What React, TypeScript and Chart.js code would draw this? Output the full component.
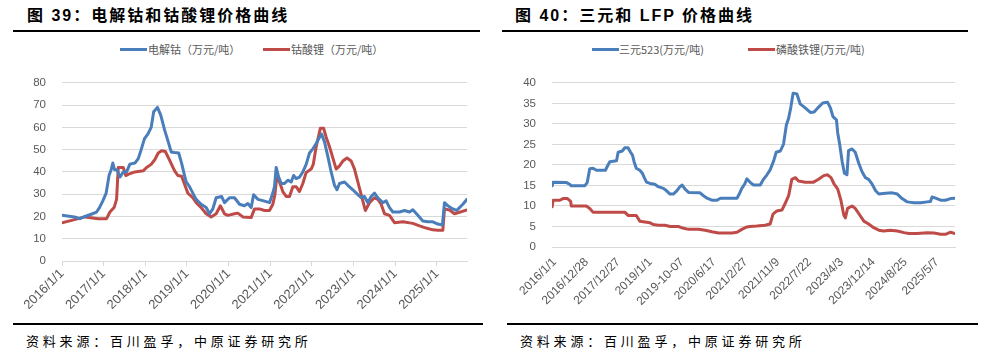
import React, { useEffect, useRef } from "react";
import { Chart, registerables } from "chart.js";

Chart.register(...registerables);

// ---------- Data: 图39 电解钴 / 钴酸锂 (万元/吨), x = fractional year ----------
const leftTickYears = [2016, 2017, 2018, 2019, 2020, 2021, 2022, 2023, 2024, 2025];
const leftXMin = 2016.0;
const leftXMax = 2025.72;

const cobaltSeries: [number, number][] = [
  [2016.0, 20.5], [2016.3, 19.8], [2016.43, 19], [2016.55, 20], [2016.7, 21], [2016.83, 22], [2016.9, 24],
  [2016.98, 27], [2017.06, 30.5], [2017.13, 38.5], [2017.18, 41], [2017.22, 44], [2017.26, 41], [2017.32, 41],
  [2017.39, 37.7], [2017.47, 40], [2017.55, 40], [2017.63, 43.5], [2017.75, 44], [2017.83, 46], [2017.9, 50],
  [2017.98, 55], [2018.06, 57], [2018.14, 60], [2018.2, 67], [2018.29, 69], [2018.37, 65.5], [2018.46, 59],
  [2018.55, 53.5], [2018.62, 49], [2018.7, 48.7], [2018.8, 48.5], [2018.87, 44], [2018.94, 38.5], [2018.98, 35.5],
  [2019.06, 33.4], [2019.14, 30.5], [2019.22, 27.7], [2019.34, 25.5], [2019.46, 24], [2019.54, 21.2], [2019.62, 23.4],
  [2019.7, 28.4], [2019.83, 29], [2019.9, 26.2], [2020.02, 28.4], [2020.14, 28.4], [2020.26, 25.5], [2020.38, 24.8],
  [2020.46, 25.8], [2020.54, 24], [2020.6, 29.8], [2020.7, 27.7], [2020.84, 27], [2020.98, 26.2], [2021.06, 30.5],
  [2021.1, 33.4], [2021.14, 42], [2021.2, 37.7], [2021.26, 34.8], [2021.34, 34.8], [2021.42, 36.3], [2021.5, 35.5],
  [2021.56, 38.4], [2021.62, 37], [2021.7, 37.7], [2021.78, 40], [2021.86, 43.4], [2021.94, 48.5], [2022.03, 50.6],
  [2022.1, 52.8], [2022.18, 55.6], [2022.23, 57], [2022.3, 53.5], [2022.38, 47], [2022.46, 40], [2022.54, 34],
  [2022.6, 32], [2022.66, 34.8], [2022.78, 35.5], [2022.86, 34], [2022.98, 32], [2023.1, 29.8], [2023.18, 28.4],
  [2023.26, 29], [2023.34, 26.2], [2023.42, 29], [2023.5, 30.5], [2023.58, 28.4], [2023.7, 26.2], [2023.78, 27],
  [2023.86, 24], [2023.94, 22], [2024.1, 22], [2024.22, 22.7], [2024.34, 22], [2024.42, 23], [2024.54, 20.5],
  [2024.66, 18], [2024.78, 17.6], [2024.9, 17.6], [2025.02, 16.6], [2025.13, 16.2], [2025.18, 26.2], [2025.26, 24.8],
  [2025.38, 23.4], [2025.47, 22.7], [2025.54, 24], [2025.62, 25.5], [2025.72, 27.7],
];

const licoSeries: [number, number][] = [
  [2016.0, 17.2], [2016.3, 18.6], [2016.55, 19.8], [2016.87, 19], [2017.07, 19], [2017.15, 22], [2017.25, 24],
  [2017.31, 27.7], [2017.35, 42], [2017.47, 42], [2017.53, 38.4], [2017.6, 39], [2017.75, 40], [2017.95, 40.5],
  [2018.03, 42], [2018.14, 43.4], [2018.23, 45.6], [2018.31, 48.5], [2018.39, 49.5], [2018.48, 49.2], [2018.59, 45],
  [2018.7, 40.6], [2018.78, 38.4], [2018.87, 38.1], [2018.95, 34], [2019.02, 30.5], [2019.14, 28.4], [2019.22, 26.2],
  [2019.34, 24], [2019.46, 21.2], [2019.58, 19.8], [2019.7, 21.2], [2019.8, 24.8], [2019.9, 21.2], [2019.98, 20.5],
  [2020.14, 21.2], [2020.22, 21.5], [2020.34, 19.8], [2020.54, 19.5], [2020.62, 23.4], [2020.74, 23.4], [2020.86, 22.7],
  [2020.98, 22.7], [2021.06, 25.5], [2021.11, 29.8], [2021.16, 38.7], [2021.22, 35.5], [2021.3, 31.2], [2021.38, 29],
  [2021.46, 29], [2021.54, 33.4], [2021.62, 33.4], [2021.7, 31.2], [2021.78, 34.8], [2021.86, 39.8], [2021.98, 41.3],
  [2022.03, 43.4], [2022.1, 51.3], [2022.2, 59.6], [2022.28, 59.6], [2022.34, 55.6], [2022.42, 51.3], [2022.5, 46.3],
  [2022.58, 41.3], [2022.66, 42.7], [2022.74, 44.9], [2022.84, 46.3], [2022.94, 44.9], [2023.02, 41.3], [2023.1, 35.5],
  [2023.18, 29.8], [2023.28, 22.7], [2023.38, 26.2], [2023.5, 28.4], [2023.58, 27.7], [2023.66, 25.5], [2023.74, 21.2],
  [2023.86, 20.5], [2023.98, 17.2], [2024.18, 17.6], [2024.42, 16.9], [2024.58, 15.8], [2024.74, 14.8], [2024.9, 14],
  [2025.02, 13.8], [2025.14, 13.8], [2025.18, 23.4], [2025.3, 22.9], [2025.42, 21.2], [2025.54, 21.9], [2025.72, 22.9],
];

// ---------- Data: 图40 三元523 / 磷酸铁锂 (万元/吨), x = position in label steps ----------
const rightTickLabels = [
  "2016/1/1", "2016/12/28", "2017/12/27", "2019/1/1", "2019-10-07", "2020/6/17", "2021/2/27",
  "2021/11/9", "2022/7/22", "2023/4/3", "2023/12/14", "2024/8/25", "2025/5/7",
];
const rightXMin = -0.085;
const rightXMax = 12.56;

const ncmSeries: [number, number][] = [
  [-0.08, 14.9], [-0.05, 15.8], [0.37, 15.7], [0.47, 15.3], [0.52, 14.9], [0.94, 14.9], [1.02, 15.7], [1.1, 19.1],
  [1.2, 19.2], [1.31, 18.7], [1.59, 18.7], [1.66, 19.8], [1.73, 20.8], [1.94, 21], [1.99, 23.1], [2.12, 23.4],
  [2.2, 24.2], [2.3, 24.2], [2.38, 23.1], [2.44, 22.4], [2.49, 20.8], [2.56, 19.2], [2.67, 18.7], [2.75, 18],
  [2.81, 16.9], [2.88, 15.8], [2.99, 15.5], [3.14, 15.3], [3.25, 14.7], [3.41, 14.3], [3.51, 13.7], [3.62, 12.9],
  [3.72, 12.9], [3.83, 13.7], [3.93, 14.7], [4.0, 15.1], [4.09, 14.1], [4.2, 13.3], [4.56, 13.2], [4.67, 12.5],
  [4.78, 11.9], [4.93, 11.4], [5.09, 11.4], [5.2, 11.9], [5.72, 11.9], [5.79, 12.9], [5.87, 14.3], [5.96, 15.3],
  [6.03, 16.6], [6.14, 15.7], [6.24, 15.1], [6.45, 15.1], [6.55, 16.5], [6.66, 17.6], [6.76, 18.8], [6.87, 21],
  [6.95, 23.1], [7.08, 23.4], [7.18, 25.1], [7.27, 29.8], [7.34, 31.4], [7.41, 34.1], [7.48, 37.5], [7.6, 37.3],
  [7.7, 34.9], [7.86, 33.9], [8.02, 32.8], [8.14, 32.9], [8.28, 34.1], [8.41, 35.1], [8.56, 35.3], [8.65, 33.9],
  [8.73, 31.8], [8.84, 31], [8.88, 27.8], [8.94, 25.1], [9.02, 20.8], [9.09, 18], [9.17, 17.6], [9.22, 23.5],
  [9.33, 23.9], [9.43, 23.1], [9.54, 20.4], [9.64, 18.4], [9.75, 16.9], [9.85, 16.5], [9.96, 15.3], [10.07, 13.7],
  [10.17, 12.9], [10.38, 13.1], [10.59, 13.2], [10.75, 12.9], [10.9, 11.8], [11.06, 11], [11.27, 10.8], [11.48, 10.8],
  [11.69, 11], [11.79, 11.1], [11.84, 12.2], [11.95, 11.9], [12.11, 11.4], [12.26, 11.4], [12.42, 11.8], [12.56, 11.9],
];

const lfpSeries: [number, number][] = [
  [-0.08, 9.8], [-0.05, 11.4], [0.16, 11.4], [0.26, 11.8], [0.4, 11.8], [0.5, 11.1], [0.52, 10], [0.99, 10],
  [1.1, 9.4], [1.2, 8.5], [2.2, 8.5], [2.3, 7.7], [2.56, 7.7], [2.67, 6.3], [2.83, 6.1], [2.99, 5.9], [3.09, 5.5],
  [3.25, 5.3], [3.46, 5.3], [3.62, 5], [3.88, 5], [3.98, 4.7], [4.2, 4.3], [4.51, 4.3], [4.72, 4.1], [4.93, 3.7],
  [5.14, 3.4], [5.56, 3.4], [5.72, 3.6], [5.87, 4.3], [6.03, 4.9], [6.13, 5], [6.34, 5.1], [6.6, 5.3], [6.76, 5.6],
  [6.85, 8], [6.97, 8.8], [7.13, 9], [7.23, 10.6], [7.34, 12.5], [7.44, 16.5], [7.55, 16.9], [7.65, 16.1],
  [7.86, 15.8], [8.12, 15.8], [8.28, 16.5], [8.44, 17.4], [8.56, 17.6], [8.67, 16.9], [8.77, 15.3], [8.88, 14.1],
  [8.98, 11.4], [9.07, 7.8], [9.12, 7.1], [9.19, 9.4], [9.33, 10], [9.43, 9.4], [9.57, 7.8], [9.7, 6.3],
  [9.85, 5.6], [10.01, 4.7], [10.17, 4.1], [10.32, 3.9], [10.53, 4.1], [10.75, 3.9], [10.96, 3.5], [11.11, 3.3],
  [11.37, 3.3], [11.69, 3.5], [11.9, 3.4], [12.11, 3.1], [12.26, 3.1], [12.42, 3.6], [12.56, 3.3],
];

const BLUE = "#4A7EBB";
const RED = "#BE4B48";
const GRID = "#D9D9D9";
const TICK_COLOR = "#595959";
const TICK_FONT = '"Liberation Sans", Arial, "Noto Sans CJK SC", sans-serif';
const CJK_FONT = '"Noto Sans CJK SC", "Liberation Sans", sans-serif';

type PanelProps = {
  left: number;
  top: number;
  width: number;
  height: number;
  series: { data: [number, number][]; color: string; label: string }[];
  xMin: number;
  xMax: number;
  xTicks: number[];
  xLabel: (v: number) => string;
  yMax: number;
  yStep: number;
  yAxisWidth: number;
  xAxisHeight: number;
  padTop: number;
  padRight: number;
  showTickMarks: boolean;
  xLabelPad: number;
  xFontSize: number;
};

function ChartPanel(p: PanelProps) {
  const ref = useRef<HTMLCanvasElement | null>(null);
  useEffect(() => {
    if (!ref.current) return;
    const chart = new Chart(ref.current, {
      type: "line",
      data: {
        datasets: p.series.map((s) => ({
          label: s.label,
          data: s.data.map(([x, y]) => ({ x, y })),
          borderColor: s.color,
          backgroundColor: s.color,
          borderWidth: 3,
          pointRadius: 0,
          tension: 0,
          borderJoinStyle: "round" as const,
          borderCapStyle: "round" as const,
        })),
      },
      options: {
        animation: false,
        responsive: false,
        events: [],
        layout: { padding: { top: p.padTop, right: p.padRight, left: 0, bottom: 0 } },
        plugins: { legend: { display: false }, tooltip: { enabled: false } },
        scales: {
          x: {
            type: "linear",
            min: p.xMin,
            max: p.xMax,
            afterBuildTicks: (scale: any) => {
              scale.ticks = p.xTicks.map((v) => ({ value: v }));
            },
            afterFit: (scale: any) => {
              scale.height = p.xAxisHeight;
            },
            grid: {
              drawOnChartArea: false,
              drawTicks: p.showTickMarks,
              tickLength: 5,
              color: GRID,
            },
            border: { display: true, color: GRID, width: 1 },
            ticks: {
              autoSkip: false,
              minRotation: 45,
              maxRotation: 45,
              padding: p.xLabelPad,
              color: TICK_COLOR,
              font: { family: TICK_FONT, size: p.xFontSize },
              callback: (v: any) => p.xLabel(Number(v)),
            },
          },
          y: {
            type: "linear",
            min: 0,
            max: p.yMax,
            afterFit: (scale: any) => {
              scale.width = p.yAxisWidth;
            },
            grid: { color: GRID, drawTicks: false, lineWidth: 1 },
            border: { display: false },
            ticks: {
              stepSize: p.yStep,
              padding: 16,
              color: TICK_COLOR,
              font: { family: TICK_FONT, size: 11.5 },
            },
          },
        },
      },
    } as any);
    return () => chart.destroy();
  }, []);
  return (
    <canvas
      ref={ref}
      width={p.width}
      height={p.height}
      style={{ position: "absolute", left: p.left, top: p.top, width: p.width, height: p.height }}
    />
  );
}

const titleStyle: React.CSSProperties = {
  position: "absolute",
  top: 6,
  fontSize: 16,
  lineHeight: "20px",
  fontWeight: 700,
  letterSpacing: "2px",
  fontFamily: '"Liberation Sans", "Noto Sans CJK SC", sans-serif',
  color: "#000",
  whiteSpace: "nowrap",
};

const legendTextStyle: React.CSSProperties = {
  position: "absolute",
  top: 42,
  fontSize: 11,
  lineHeight: "14px",
  letterSpacing: "0px",
  fontFamily: CJK_FONT,
  color: "#595959",
  whiteSpace: "nowrap",
};

const sourceStyle: React.CSSProperties = {
  position: "absolute",
  top: 332,
  fontSize: 13,
  lineHeight: "18px",
  letterSpacing: "3.8px",
  fontFamily: CJK_FONT,
  color: "#000",
  whiteSpace: "nowrap",
};

function Swatch({ left, color }: { left: number; color: string }) {
  return <div style={{ position: "absolute", left, top: 48, width: 27, height: 3, background: color }} />;
}

function Rule({ left, top, width }: { left: number; top: number; width: number }) {
  return <div style={{ position: "absolute", left, top, width, height: 2, background: "#000" }} />;
}

export default function App() {
  return (
    <div
      style={{
        position: "absolute",
        left: 0,
        top: 0,
        width: 984,
        height: 354,
        background: "#fff",
        overflow: "hidden",
      }}
    >
      {/* Left panel */}
      <div style={{ ...titleStyle, left: 27 }}>图 39：电解钴和钴酸锂价格曲线</div>
      <Rule left={13} top={30} width={467} />
      <Swatch left={120} color={BLUE} />
      <div style={{ ...legendTextStyle, left: 148 }}>电解钴（万元/吨）</div>
      <Swatch left={263} color={RED} />
      <div style={{ ...legendTextStyle, left: 291 }}>钴酸锂（万元/吨）</div>
      <ChartPanel
        left={0}
        top={60}
        width={490}
        height={260}
        series={[
          { data: cobaltSeries, color: BLUE, label: "电解钴（万元/吨）" },
          { data: licoSeries, color: RED, label: "钴酸锂（万元/吨）" },
        ]}
        xMin={leftXMin}
        xMax={leftXMax}
        xTicks={leftTickYears}
        xLabel={(v) => `${Math.round(v)}/1/1`}
        yMax={80}
        yStep={10}
        yAxisWidth={62}
        xAxisHeight={59}
        padTop={15}
        padRight={23}
        showTickMarks={true}
        xLabelPad={0}
        xFontSize={13}
      />
      <Rule left={13} top={323} width={470} />
      <div style={{ ...sourceStyle, left: 26 }}>资料来源：百川盈孚，中原证券研究所</div>

      {/* Right panel */}
      <div style={{ ...titleStyle, left: 515 }}>图 40：三元和 LFP 价格曲线</div>
      <Rule left={502} top={30} width={466} />
      <Swatch left={592} color={BLUE} />
      <div style={{ ...legendTextStyle, left: 619 }}>三元523(万元/吨)</div>
      <Swatch left={748} color={RED} />
      <div style={{ ...legendTextStyle, left: 776 }}>磷酸铁锂(万元/吨)</div>
      <ChartPanel
        left={490}
        top={60}
        width={490}
        height={260}
        series={[
          { data: ncmSeries, color: BLUE, label: "三元523(万元/吨)" },
          { data: lfpSeries, color: RED, label: "磷酸铁锂(万元/吨)" },
        ]}
        xMin={rightXMin}
        xMax={rightXMax}
        xTicks={rightTickLabels.map((_, i) => i)}
        xLabel={(v) => rightTickLabels[Math.round(v)] ?? ""}
        yMax={40}
        yStep={5}
        yAxisWidth={62}
        xAxisHeight={73}
        padTop={17}
        padRight={25}
        showTickMarks={false}
        xLabelPad={8}
        xFontSize={12}
      />
      <Rule left={507} top={323} width={471} />
      <div style={{ ...sourceStyle, left: 520 }}>资料来源：百川盈孚，中原证券研究所</div>
    </div>
  );
}
